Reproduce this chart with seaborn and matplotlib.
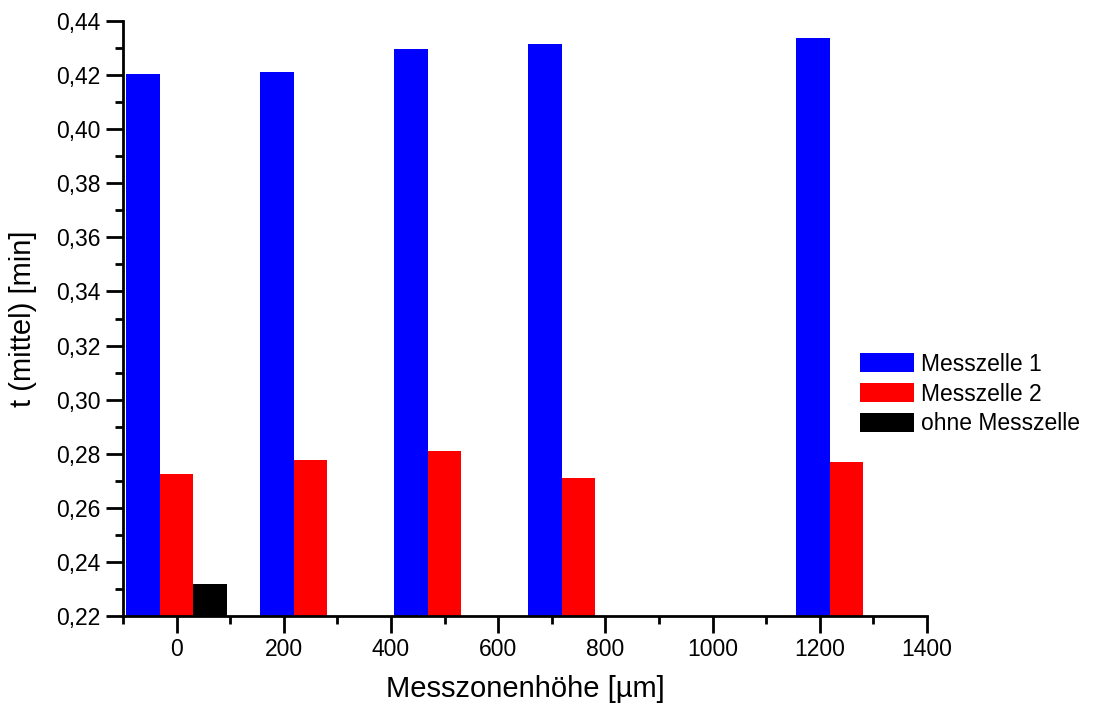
import numpy as np
import pandas as pd
import matplotlib
matplotlib.use("Agg")
import matplotlib.pyplot as plt
from matplotlib.ticker import MultipleLocator, FuncFormatter
import seaborn as sns

# Data
heights = [0, 250, 500, 750, 1250]
messzelle1 = [0.4203, 0.4211, 0.4298, 0.4314, 0.4336]
messzelle2 = [0.2725, 0.2777, 0.2810, 0.2710, 0.2769]
ohne_x = [0]
ohne_messzelle = [0.2318]
series_names = ["Messzelle 1", "Messzelle 2", "ohne Messzelle"]
colors = ["#0000FF", "#FF0000", "#000000"]

rows = []
for h, v in zip(heights, messzelle1):
    rows.append((h, v, series_names[0]))
for h, v in zip(heights, messzelle2):
    rows.append((h, v, series_names[1]))
for h, v in zip(ohne_x, ohne_messzelle):
    rows.append((h, v, series_names[2]))
df = pd.DataFrame(rows, columns=["h", "t", "serie"])

sns.set_style("ticks")
plt.rcParams["font.family"] = ["Liberation Sans", "DejaVu Sans"]
plt.rcParams["text.color"] = "black"
plt.rcParams["axes.labelcolor"] = "black"

fig = plt.figure(figsize=(10.93, 7.09), dpi=100)
ax = fig.add_axes([123 / 1093, 93 / 709, (927 - 123) / 1093, (616 - 21) / 709])

sns.barplot(data=df, x="h", y="t", hue="serie", hue_order=series_names,
            palette=colors, native_scale=True, width=0.75, dodge=True,
            errorbar=None, saturation=1, linewidth=0, ax=ax)

ax.set_xlim(-100, 1400)
ax.set_ylim(0.22, 0.44)
ax.xaxis.set_major_locator(MultipleLocator(200))
ax.xaxis.set_minor_locator(MultipleLocator(100))
ax.yaxis.set_major_locator(MultipleLocator(0.02))
ax.yaxis.set_minor_locator(MultipleLocator(0.01))
ax.yaxis.set_major_formatter(FuncFormatter(lambda v, p: f"{v:.2f}".replace(".", ",")))
ax.xaxis.set_major_formatter(FuncFormatter(lambda v, p: f"{v:.0f}"))

for s in ["top", "right"]:
    ax.spines[s].set_visible(False)
for s in ["left", "bottom"]:
    ax.spines[s].set_linewidth(2)
    ax.spines[s].set_color("black")

ax.tick_params(axis="both", which="major", direction="out", length=12, width=2,
               labelsize=16.5, colors="black", pad=4)
ax.tick_params(axis="both", which="minor", direction="out", length=6, width=2,
               colors="black")

ax.set_xlabel("Messzonenhöhe [µm]", fontsize=21, labelpad=10, color="black")
ax.set_ylabel("t (mittel) [min]", fontsize=21, labelpad=14, color="black")

leg = ax.legend(loc="upper left", bbox_to_anchor=(0.905, 0.458), frameon=False,
                fontsize=16.5, handlelength=2.35, handleheight=0.9,
                labelspacing=0.3, handletextpad=0.3, borderaxespad=0)
for t in leg.get_texts():
    t.set_color("black")

fig.savefig("out.png", dpi=100)
